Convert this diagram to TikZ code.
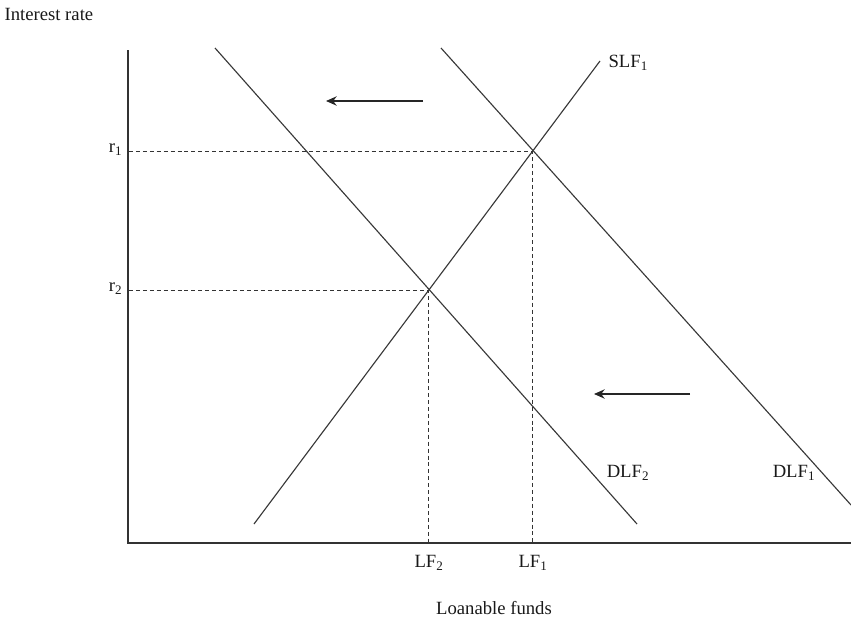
\documentclass[tikz,border=0pt]{standalone}
\usepackage{fontspec}
\setmainfont{Liberation Serif}
\usetikzlibrary{arrows.meta}

\tikzset{
  axis/.style={line width=1pt,black!80},
  curve/.style={line width=0.85pt,black!78},
  guide/.style={line width=0.7pt,black!80,dash pattern=on 3pt off 2.2pt},
  moveleft/.style={line width=1.1pt,black!85,-{Stealth[length=8pt,width=7pt]}},
  lbl/.style={inner sep=1pt,text=black!90,font=\fontsize{14}{17}\selectfont}
}

\begin{document}
\begin{tikzpicture}[x=0.75pt,y=-0.75pt]
  \useasboundingbox (0,0) rectangle (851,625);
  % axes
  \coordinate (origin) at (128,543);
  \coordinate (ytop) at (128,50);
  \coordinate (xend) at (851,543);
  \draw[axis] (ytop) -- (origin) -- (xend);
  \node[lbl,anchor=west] (yaxis) at (3,14) {Interest rate};
  \node[lbl] (xaxis) at (494,608) {Loanable funds};
  % equilibria
  \coordinate (E1) at (532,151);
  \coordinate (E2) at (428,290);
  % supply and demand
  \coordinate (slfA) at (254,524);
  \coordinate (slfB) at (600,61);
  \coordinate (dlftwoA) at (215,48);
  \coordinate (dlftwoB) at (637,524);
  \coordinate (dlfoneA) at (441,48);
  \coordinate (dlfoneB) at (851,505);
  \draw[curve] (slfA) -- (slfB);
  \draw[curve] (dlftwoA) -- (dlftwoB);
  \draw[curve] (dlfoneA) -- (dlfoneB);
  \node[lbl,anchor=west] (slf) at (607,63) {SLF\textsubscript{1}};
  \node[lbl] (dlftwo) at (628,473) {DLF\textsubscript{2}};
  \node[lbl] (dlfone) at (794,473) {DLF\textsubscript{1}};
  % guide lines
  \coordinate (rone) at (129,151);
  \coordinate (rtwo) at (129,290);
  \coordinate (lfone) at (532,543);
  \coordinate (lftwo) at (428,543);
  \draw[guide] (rone) -- (E1) -- (lfone);
  \draw[guide] (rtwo) -- (E2) -- (lftwo);
  \node[lbl,anchor=east] (rlblone) at (124,150) {r\textsubscript{1}};
  \node[lbl,anchor=east] (rlbltwo) at (124,289) {r\textsubscript{2}};
  \node[lbl] (lflblone) at (533,563) {LF\textsubscript{1}};
  \node[lbl] (lflbltwo) at (429,563) {LF\textsubscript{2}};
  % shifts of demand
  \coordinate (topR) at (423,101);
  \coordinate (topL) at (326,101);
  \coordinate (lowR) at (690,394);
  \coordinate (lowL) at (594,394);
  \draw[moveleft] (topR) -- (topL);
  \draw[moveleft] (lowR) -- (lowL);
\end{tikzpicture}
\end{document}
